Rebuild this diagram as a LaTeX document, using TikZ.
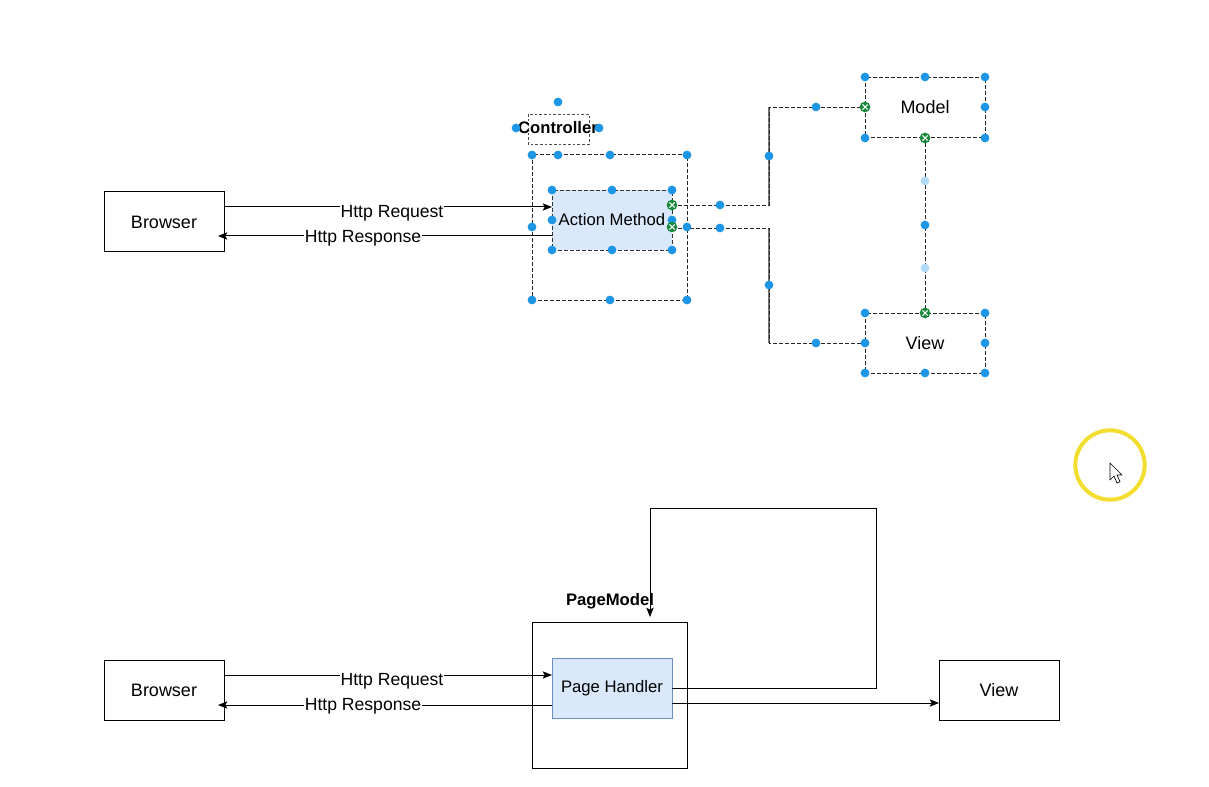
\documentclass[tikz,border=0pt]{standalone}
\usepackage{fontspec}
\setmainfont{Liberation Sans}
\usetikzlibrary{arrows.meta,calc}
\definecolor{hblue}{HTML}{1E96E6}
\definecolor{hgreen}{HTML}{17893A}
\definecolor{pfill}{HTML}{DAE8FC}
\definecolor{pdraw}{HTML}{6C8EBF}
\definecolor{cyellow}{HTML}{F2DE30}
\begin{document}
\begin{tikzpicture}[x=0.75pt,y=-0.75pt,
  every node/.style={font=\fontsize{13.5}{16}\selectfont},
  box/.style={draw=black, line width=0.75pt, minimum width=90pt, minimum height=45pt, inner sep=0pt, outer sep=0pt, fill=white},
  selbox/.style={box, draw=black!85, line width=0.6pt, dash pattern=on 3pt off 1.5pt},
  inner/.style={box, fill=pfill, draw=pdraw, font=\fontsize{12.5}{15}\selectfont},
  selinner/.style={inner, draw=black!80, line width=0.6pt, dash pattern=on 3pt off 1.5pt},
  cont/.style={draw=black, line width=0.75pt, minimum width=116.25pt, minimum height=109.5pt, inner sep=0pt, outer sep=0pt},
  selcont/.style={cont, draw=black!85, line width=0.6pt, dash pattern=on 3pt off 1.5pt},
  title/.style={font=\fontsize{12.5}{15}\selectfont\bfseries, inner sep=0pt},
  arr/.style={draw=black, line width=0.75pt, -{Stealth[length=7pt,width=5.5pt,inset=1.5pt]}},
  lbl/.style={fill=white, inner sep=0.3pt, font=\fontsize{13.2}{16}\selectfont},
  seledge/.style={draw=black!85, line width=0.6pt, dash pattern=on 3pt off 1.5pt},
  handle/.style={fill=hblue}
]
\useasboundingbox (0,0) rectangle (1209,787);
\fill[white] (0,0) rectangle (1209,787);

% ---------------- top diagram ----------------
\node[box] (b1) at (164,222) {Browser};
\node[selcont] (ctl) at (609.5,227.5) {};
\draw[black!70, line width=0.5pt, dash pattern=on 2pt off 1.5pt] (528,114) rectangle (589,144);
\node[title] (ctltitle) at (558,128) {Controller};
\node[selinner] (am) at (612,220) {Action Method};
\node[selbox] (model) at (925,107.5) {Model};
\node[selbox] (view) at (925,343) {View};

\coordinate (r1) at ($(b1.east)+(0,-15)$);
\draw[arr] (r1) -- (r1 -| am.west);
\node[lbl] (req1) at (392,213) {Http Request};
\coordinate (s1) at ($(am.west)+(0,16)$);
\coordinate (t1) at ($(s1 -| b1.east)+(-6,0)$);
\draw[arr] (s1) -- (t1);
\node[lbl] (resp1) at (363,238) {Http Response};

\coordinate (jm) at (769,0);
\coordinate (e1) at ($(am.east)+(0,-15)$);
\coordinate (e2) at ($(am.east)+(0,8)$);
\draw[black!55, line width=0.9pt] (jm |- e1) -- (jm |- model.west);
\draw[black!55, line width=0.9pt] (jm |- e2) -- (jm |- view.west);
\draw[seledge] (e1) -| (jm |- model.west) -- (model.west);
\draw[seledge] (e2) -| (jm |- view.west) -- (view.west);
\draw[seledge] (model.south) -- (view.north);

% handles
\foreach \x/\y in {558/102,516/128,599/128,
  532/155,558/155,610/155,687/155,532/227,687/227,532/300,610/300,687/300,
  552/190,612/190,672/190,552/220,672/220,552/250,612/250,672/250,
  720/205,769/156,816/107,720/228,769/285,816/343,
  865/77,925/77,985/77,985/107,865/138,985/138,
  925/225,
  865/313,985/313,865/343,985/343,865/373,925/373,985/373}
  {\fill[handle] (\x,\y) circle[radius=3.3pt];}
\foreach \x/\y in {925/181,925/268}
  {\fill[hblue!35] (\x,\y) circle[radius=3.3pt];}
\foreach \x/\y in {672/205,672/227,865/107,925/138,925/313}
  {\fill[hgreen] (\x,\y) circle[radius=4pt];
   \draw[white, line width=0.8pt] (\x-2.6,\y-2.6) -- (\x+2.6,\y+2.6) (\x-2.6,\y+2.6) -- (\x+2.6,\y-2.6);}

% ---------------- bottom diagram ----------------
\node[box] (b2) at (164,690) {Browser};
\node[cont] (pm) at (609.5,695) {};
\node[title] (pmtitle) at (610,601) {PageModel};
\node[inner] (ph) at (612,688) {Page Handler};
\node[box] (v2) at (999,690) {View};

\coordinate (r2) at ($(b2.east)+(0,-15)$);
\draw[arr] (r2) -- (r2 -| ph.west);
\node[lbl] (req2) at (392,681.5) {Http Request};
\coordinate (s2) at ($(ph.west)+(0,17)$);
\coordinate (t2) at ($(s2 -| b2.east)+(-6,0)$);
\draw[arr] (s2) -- (t2);
\node[lbl] (resp2) at (363,706) {Http Response};

\coordinate (lp) at (876,508);
\coordinate (lt) at ($(pm.north)+(40.5,-5)$);
\draw[arr] (ph.east) -| (lp) -| (lt);
\coordinate (q) at ($(ph.east)+(0,15)$);
\draw[arr] (q) -- (q -| v2.west);

% cursor highlight
\draw[cyellow, line width=3pt] (1110,465) circle[radius=26pt];
\draw[black, fill=white, line width=0.5pt, line join=round]
  (1110,463) -- (1110,480) -- (1114,476) -- (1117,483) -- (1120,481.5) -- (1117,475) -- (1122,475) -- cycle;
\end{tikzpicture}
\end{document}
